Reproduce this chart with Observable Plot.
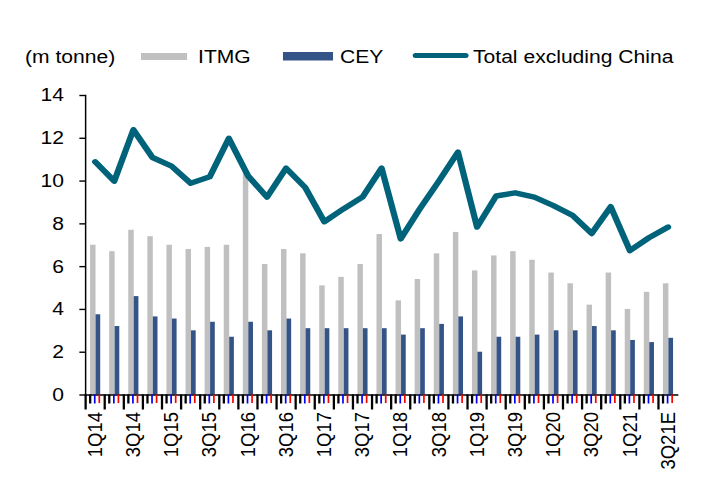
<!DOCTYPE html>
<html>
<head>
<meta charset="utf-8">
<script src="https://cdn.jsdelivr.net/npm/d3@7"></script>
<script src="https://cdn.jsdelivr.net/npm/@observablehq/plot@0.6"></script>
<style>
  html, body { margin: 0; padding: 0; background: white; overflow: hidden; }
  #wrap { width: 621px; transform: scaleX(1.1401); transform-origin: 0 0; font-family: "Liberation Sans", Arial, sans-serif; }
  #legend { display: block; }
  #chart svg { overflow: visible; }
</style>
</head>
<body>
<div id="wrap">
  <svg id="legend" width="621" height="75" font-family="Liberation Sans, Arial, sans-serif" font-size="18.5"></svg>
  <div id="chart"></div>
</div>
<script>
const quarters = ["1Q14","2Q14","3Q14","4Q14","1Q15","2Q15","3Q15","4Q15",
  "1Q16","2Q16","3Q16","4Q16","1Q17","2Q17","3Q17","4Q17",
  "1Q18","2Q18","3Q18","4Q18","1Q19","2Q19","3Q19","4Q19",
  "1Q20","2Q20","3Q20","4Q20","1Q21","2Q21","3Q21E"];
const itmg = [7.0, 6.7, 7.7, 7.4, 7.0, 6.8, 6.9, 7.0,
  10.4, 6.1, 6.8, 6.6, 5.1, 5.5, 6.1, 7.5,
  4.4, 5.4, 6.6, 7.6, 5.8, 6.5, 6.7, 6.3,
  5.7, 5.2, 4.2, 5.7, 4.0, 4.8, 5.2];
const cey = [3.75, 3.2, 4.6, 3.65, 3.55, 3.0, 3.4, 2.7,
  3.4, 3.0, 3.55, 3.1, 3.1, 3.1, 3.1, 3.1,
  2.8, 3.1, 3.3, 3.65, 2.0, 2.7, 2.7, 2.8,
  3.0, 3.0, 3.2, 3.0, 2.55, 2.45, 2.65];
const total = [10.9, 10.0, 12.4, 11.1, 10.7, 9.9, 10.2, 12.0,
  10.25, 9.25, 10.6, 9.7, 8.1, 8.7, 9.25, 10.6,
  7.3, 8.7, 10.0, 11.35, 7.85, 9.3, 9.45, 9.25,
  8.85, 8.4, 7.55, 8.8, 6.75, 7.35, 7.85];
const yTicks = [0, 2, 4, 6, 8, 10, 12, 14];
const labelTicks = quarters.filter((d, i) => i % 2 === 0);

const colors = {itmg: "#C0C0C0", cey: "#345487", total: "#00637A"};
const seriesNames = ["ITMG", "CEY", "Total excluding China"];

const data = quarters.map((q, i) => ({q, itmg: itmg[i], cey: cey[i], total: total[i]}));

const W = 621, H = 418, ml = 74.6, mr = 27.2, mt = 20, mb = 98.5;
const bw = (W - ml - mr) / quarters.length;

const chart = Plot.plot({
  width: W, height: H,
  marginLeft: ml, marginRight: mr, marginTop: mt, marginBottom: mb,
  style: {fontFamily: "Liberation Sans, Arial, sans-serif", fontSize: "18.5px", color: "#000", background: "white", overflow: "visible"},
  x: {type: "band", domain: quarters, padding: 0, round: false, label: null},
  y: {domain: [0, 14], label: null},
  marks: [
    Plot.barY(data, {x: "q", y: "itmg", fill: colors.itmg, insetLeft: 4.4, insetRight: 7.55}),
    Plot.barY(data, {x: "q", y: "cey", fill: colors.cey, insetLeft: 9.2, insetRight: 3.45}),
    Plot.lineY(data, {x: "q", y: "total", stroke: colors.total, strokeWidth: 5.5, strokeLinejoin: "round", strokeLinecap: "round"}),
    Plot.frame({anchor: "left", stroke: "#000", strokeWidth: 1.3}),
    Plot.frame({anchor: "bottom", stroke: "#000", strokeWidth: 1.4}),
    Plot.axisY({ticks: yTicks, tickSize: 5, tickPadding: 14, fontSize: 18.5, stroke: "#000", strokeWidth: 1.4, label: null}),
    Plot.axisX({ticks: quarters, tickSize: 15, tickFormat: () => null, dx: -bw / 2, stroke: "black", strokeWidth: 2, label: null}),
    Plot.axisX({ticks: quarters, tickSize: 9, tickFormat: () => null, dx: -bw / 2 + 4, stroke: "black", strokeWidth: 2, label: null}),
    Plot.axisX({ticks: quarters, tickSize: 9, tickFormat: () => null, dx: -bw / 2 + 8, stroke: "blue", strokeWidth: 1.5, label: null}),
    Plot.ruleX(quarters, {x: d => d, y1: 0, y2: -0.4, dx: -bw / 2 + 12, stroke: "red", strokeWidth: 1.5}),
    Plot.axisX({ticks: labelTicks, tickSize: 0, tickPadding: 17, tickRotate: -90, fontSize: 18.5, label: null})
  ]
});
document.getElementById("chart").appendChild(chart);

// legend
const lg = d3.select("#legend");
const baseY = 63.3;
lg.append("text").attr("x", 21.9).attr("y", baseY).text("(m tonne)");
lg.append("rect").attr("x", 123.7).attr("y", 53).attr("width", 40.4).attr("height", 7).attr("fill", colors.itmg);
lg.append("text").attr("x", 173.7).attr("y", baseY).text(seriesNames[0]);
lg.append("rect").attr("x", 248.2).attr("y", 52).attr("width", 43.9).attr("height", 8.5).attr("fill", colors.cey);
lg.append("text").attr("x", 298.2).attr("y", baseY).text(seriesNames[1]);
lg.append("line").attr("x1", 364.5).attr("x2", 408.5).attr("y1", 55.5).attr("y2", 55.5)
  .attr("stroke", colors.total).attr("stroke-width", 5).attr("stroke-linecap", "round");
lg.append("text").attr("x", 414.9).attr("y", baseY).text(seriesNames[2]);
</script>
</body>
</html>
